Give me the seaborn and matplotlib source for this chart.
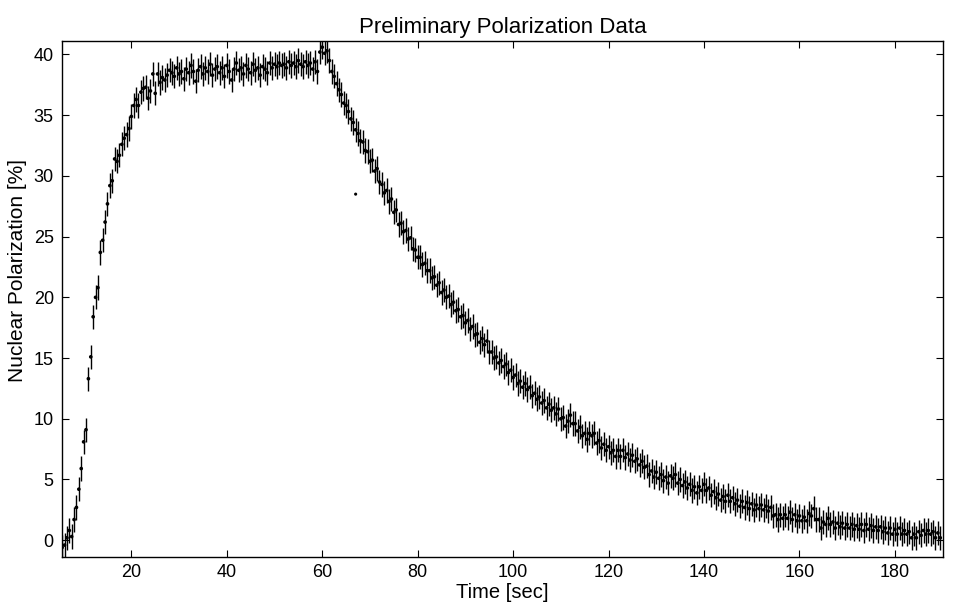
import matplotlib
matplotlib.use("Agg")
import matplotlib.pyplot as plt
import seaborn as sns

# tempo di misura [sec], un punto ogni 0.5 s
time_sec = [
    5.5, 6.0, 6.5, 7.0, 7.5, 8.0, 8.5, 9.0, 9.5, 10.0,
    10.5, 11.0, 11.5, 12.0, 12.5, 13.0, 13.5, 14.0, 14.5, 15.0,
    15.5, 16.0, 16.5, 17.0, 17.5, 18.0, 18.5, 19.0, 19.5, 20.0,
    20.5, 21.0, 21.5, 22.0, 22.5, 23.0, 23.5, 24.0, 24.5, 25.0,
    25.5, 26.0, 26.5, 27.0, 27.5, 28.0, 28.5, 29.0, 29.5, 30.0,
    30.5, 31.0, 31.5, 32.0, 32.5, 33.0, 33.5, 34.0, 34.5, 35.0,
    35.5, 36.0, 36.5, 37.0, 37.5, 38.0, 38.5, 39.0, 39.5, 40.0,
    40.5, 41.0, 41.5, 42.0, 42.5, 43.0, 43.5, 44.0, 44.5, 45.0,
    45.5, 46.0, 46.5, 47.0, 47.5, 48.0, 48.5, 49.0, 49.5, 50.0,
    50.5, 51.0, 51.5, 52.0, 52.5, 53.0, 53.5, 54.0, 54.5, 55.0,
    55.5, 56.0, 56.5, 57.0, 57.5, 58.0, 58.5, 59.0, 59.5, 60.0,
    60.5, 61.0, 61.5, 62.0, 62.5, 63.0, 63.5, 64.0, 64.5, 65.0,
    65.5, 66.0, 66.5, 67.0, 67.5, 68.0, 68.5, 69.0, 69.5, 70.0,
    70.5, 71.0, 71.5, 72.0, 72.5, 73.0, 73.5, 74.0, 74.5, 75.0,
    75.5, 76.0, 76.5, 77.0, 77.5, 78.0, 78.5, 79.0, 79.5, 80.0,
    80.5, 81.0, 81.5, 82.0, 82.5, 83.0, 83.5, 84.0, 84.5, 85.0,
    85.5, 86.0, 86.5, 87.0, 87.5, 88.0, 88.5, 89.0, 89.5, 90.0,
    90.5, 91.0, 91.5, 92.0, 92.5, 93.0, 93.5, 94.0, 94.5, 95.0,
    95.5, 96.0, 96.5, 97.0, 97.5, 98.0, 98.5, 99.0, 99.5, 100.0,
    100.5, 101.0, 101.5, 102.0, 102.5, 103.0, 103.5, 104.0, 104.5, 105.0,
    105.5, 106.0, 106.5, 107.0, 107.5, 108.0, 108.5, 109.0, 109.5, 110.0,
    110.5, 111.0, 111.5, 112.0, 112.5, 113.0, 113.5, 114.0, 114.5, 115.0,
    115.5, 116.0, 116.5, 117.0, 117.5, 118.0, 118.5, 119.0, 119.5, 120.0,
    120.5, 121.0, 121.5, 122.0, 122.5, 123.0, 123.5, 124.0, 124.5, 125.0,
    125.5, 126.0, 126.5, 127.0, 127.5, 128.0, 128.5, 129.0, 129.5, 130.0,
    130.5, 131.0, 131.5, 132.0, 132.5, 133.0, 133.5, 134.0, 134.5, 135.0,
    135.5, 136.0, 136.5, 137.0, 137.5, 138.0, 138.5, 139.0, 139.5, 140.0,
    140.5, 141.0, 141.5, 142.0, 142.5, 143.0, 143.5, 144.0, 144.5, 145.0,
    145.5, 146.0, 146.5, 147.0, 147.5, 148.0, 148.5, 149.0, 149.5, 150.0,
    150.5, 151.0, 151.5, 152.0, 152.5, 153.0, 153.5, 154.0, 154.5, 155.0,
    155.5, 156.0, 156.5, 157.0, 157.5, 158.0, 158.5, 159.0, 159.5, 160.0,
    160.5, 161.0, 161.5, 162.0, 162.5, 163.0, 163.5, 164.0, 164.5, 165.0,
    165.5, 166.0, 166.5, 167.0, 167.5, 168.0, 168.5, 169.0, 169.5, 170.0,
    170.5, 171.0, 171.5, 172.0, 172.5, 173.0, 173.5, 174.0, 174.5, 175.0,
    175.5, 176.0, 176.5, 177.0, 177.5, 178.0, 178.5, 179.0, 179.5, 180.0,
    180.5, 181.0, 181.5, 182.0, 182.5, 183.0, 183.5, 184.0, 184.5, 185.0,
    185.5, 186.0, 186.5, 187.0, 187.5, 188.0, 188.5, 189.0, 189.5,
]

# polarizzazione nucleare [%]
polarization = [
    -0.6, -0.4, 0.2, 0.8, 0.3, 1.7, 2.7, 4.2, 5.9, 8.1,
    9.1, 13.3, 15.1, 18.4, 20.0, 20.8, 23.7, 24.7, 26.2, 27.7,
    29.2, 29.6, 31.4, 31.2, 31.7, 32.6, 33.1, 33.4, 33.9, 34.9,
    35.8, 36.3, 35.8, 36.9, 37.2, 37.3, 36.4, 37.0, 38.4, 36.8,
    38.4, 37.7, 38.1, 37.9, 38.3, 38.7, 38.5, 38.2, 38.9, 38.4,
    38.6, 38.0, 38.8, 38.5, 39.1, 38.6, 37.8, 38.7, 39.0, 38.4,
    38.9, 38.6, 39.2, 38.3, 38.8, 39.0, 38.5, 38.9, 38.2, 39.1,
    38.6, 37.9, 38.8, 39.3, 38.7, 38.9, 38.4, 39.1, 38.8, 38.5,
    39.2, 38.7, 38.9, 38.3, 39.0, 38.8, 38.5, 39.3, 38.9, 39.2,
    39.0, 39.3, 39.1, 39.2, 38.9, 39.4, 39.1, 39.3, 39.0, 39.5,
    39.2, 39.0, 39.4, 39.1, 39.3, 38.8, 39.4, 38.6, 40.2, 40.6,
    40.1, 40.3, 39.5, 38.6, 38.2, 37.6, 37.1, 36.7, 36.0, 35.8,
    35.3, 34.7, 34.4, 33.8, 33.5, 32.9, 32.8, 32.1, 32.0, 31.2,
    31.3, 30.4, 30.6, 29.5, 29.3, 28.6, 28.8, 27.9, 28.1, 27.0,
    27.2, 26.0, 26.1, 25.4, 25.5, 24.8, 24.9, 24.0, 23.9, 23.3,
    23.3, 22.7, 22.8, 22.2, 22.2, 21.6, 21.7, 21.0, 21.2, 20.4,
    20.6, 20.0, 20.1, 19.4, 19.6, 18.9, 19.0, 18.4, 18.5, 17.9,
    18.1, 17.4, 17.6, 16.9, 17.0, 16.3, 16.6, 16.1, 16.4, 15.5,
    15.5, 15.0, 15.1, 14.6, 14.8, 14.3, 14.5, 13.8, 14.0, 13.4,
    13.6, 12.9, 13.1, 12.6, 12.9, 12.4, 12.6, 11.9, 12.1, 11.6,
    11.8, 11.3, 11.5, 10.9, 11.2, 10.7, 10.9, 10.4, 10.8, 10.0,
    10.1, 9.4, 9.8, 10.3, 9.6, 9.6, 9.0, 9.3, 8.6, 8.8,
    8.3, 8.8, 8.6, 8.8, 8.0, 8.2, 7.6, 7.9, 7.4, 7.7,
    7.2, 7.4, 6.9, 7.4, 6.9, 7.4, 6.8, 7.1, 6.6, 7.0,
    6.5, 6.7, 6.2, 6.5, 6.0, 6.1, 5.4, 5.7, 5.2, 5.6,
    5.1, 5.4, 4.9, 5.2, 4.7, 5.3, 5.1, 5.4, 4.7, 5.0,
    4.5, 4.8, 4.3, 4.6, 4.1, 4.4, 3.9, 4.4, 4.1, 4.6,
    4.1, 4.3, 3.7, 4.0, 3.5, 3.8, 3.3, 3.6, 3.2, 3.7,
    3.2, 3.5, 3.0, 3.3, 2.8, 3.2, 2.7, 3.1, 2.6, 3.0,
    2.5, 2.9, 2.6, 2.9, 2.5, 2.8, 2.4, 2.7, 2.0, 2.1,
    1.7, 2.1, 1.8, 2.1, 1.8, 2.3, 1.7, 2.1, 1.6, 2.0,
    1.6, 1.9, 1.6, 2.2, 2.0, 2.6, 1.7, 1.7, 1.0, 1.5,
    1.3, 1.8, 1.3, 1.5, 1.0, 1.4, 1.1, 1.4, 1.0, 1.3,
    1.0, 1.3, 0.9, 1.2, 0.9, 1.3, 0.8, 1.3, 0.9, 1.2,
    0.8, 1.1, 0.8, 1.1, 0.7, 1.0, 0.6, 1.0, 0.5, 0.9,
    0.5, 1.0, 0.5, 0.8, 0.5, 0.7, 0.2, 0.5, 0.2, 0.7,
    0.4, 0.8, 0.5, 0.8, 0.5, 0.7, 0.2, 0.6, 0.2,
]

# incertezza su ogni punto [%]
pol_err = 1.0

# punto isolato senza barra d'errore
stray_time = [67.0]
stray_pol = [28.5]

sns.set_style("ticks")
plt.rcParams['font.family'] = ['Liberation Sans', 'DejaVu Sans']
plt.rcParams['text.color'] = 'black'
plt.rcParams['axes.labelcolor'] = 'black'
plt.rcParams['xtick.color'] = 'black'
plt.rcParams['ytick.color'] = 'black'

fig, ax = plt.subplots(figsize=(9.56, 6.05), dpi=100)
fig.subplots_adjust(left=0.065, right=0.986, bottom=0.079, top=0.932)

ax.errorbar(time_sec, polarization, yerr=pol_err, fmt='none',
            ecolor='black', elinewidth=1.0, capsize=0)
sns.scatterplot(x=time_sec, y=polarization, color='black', s=7,
                edgecolor='none', ax=ax)
sns.scatterplot(x=stray_time, y=stray_pol, color='black', s=5,
                edgecolor='none', ax=ax)

ax.set_xlim(5.5, 190)
ax.set_ylim(-1.4, 41.1)
ax.set_xticks([20, 40, 60, 80, 100, 120, 140, 160, 180])
ax.set_yticks([0, 5, 10, 15, 20, 25, 30, 35, 40])
ax.tick_params(direction='in', top=True, right=True, length=5, width=0.8,
               labelsize=13)
ax.tick_params(axis='x', pad=5)
ax.tick_params(axis='y', pad=6)
for s in ax.spines.values():
    s.set_linewidth(1.0)
    s.set_edgecolor('black')
    s.set_visible(True)

ax.set_title('Preliminary Polarization Data', fontsize=16, pad=6)
ax.set_xlabel('Time [sec]', fontsize=14.5, labelpad=1)
ax.set_ylabel('Nuclear Polarization [%]', fontsize=15)
ax.yaxis.set_label_coords(-0.04, 0.556)

plt.savefig('out.png', dpi=100)
